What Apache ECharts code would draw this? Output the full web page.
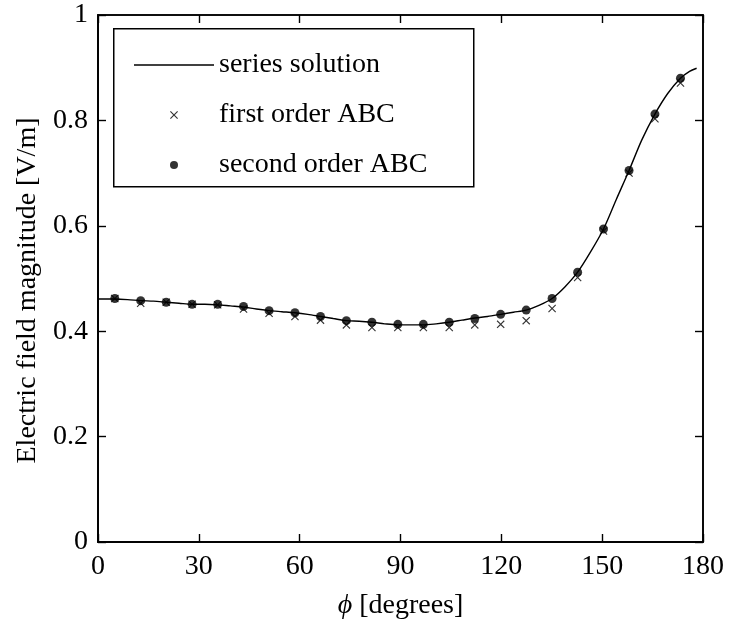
<!DOCTYPE html>
<html>
<head>
<meta charset="utf-8">
<script src="https://cdn.jsdelivr.net/npm/echarts@6/dist/echarts.min.js"></script>
<style>
  html, body { margin: 0; padding: 0; background: #fff; }
  #chart { width: 730px; height: 626px; }
</style>
</head>
<body>
<div id="chart"></div>
<script>
// Series (analytic) solution, sampled along phi in degrees
const curvePhi = [0, 5.0, 8.8, 12.7, 16.5, 20.3, 24.1, 28.0, 31.8, 35.6, 39.4, 43.3, 47.1, 50.9,
  54.7, 58.6, 62.4, 66.2, 70.0, 73.9, 77.7, 81.5, 85.3, 89.2, 93.0, 96.8, 100.6, 104.5, 108.3,
  112.1, 115.9, 119.8, 123.6, 127.4, 131.2, 135.1, 138.9, 142.7, 146.5, 150.4, 154.2, 158.0,
  161.8, 165.7, 169.5, 173.3, 176.0, 178.1];
const curveE = [0.461, 0.461, 0.460, 0.458, 0.457, 0.455, 0.453, 0.451, 0.451, 0.450, 0.448, 0.446,
  0.442, 0.439, 0.437, 0.435, 0.432, 0.428, 0.424, 0.420, 0.419, 0.417, 0.414, 0.412, 0.412,
  0.412, 0.414, 0.417, 0.421, 0.425, 0.428, 0.432, 0.436, 0.440, 0.449, 0.462, 0.484, 0.512,
  0.550, 0.594, 0.650, 0.705, 0.763, 0.812, 0.851, 0.880, 0.893, 0.899];

// Boundary nodes where the ABC solutions are evaluated
const nodePhi = [5.0, 12.7, 20.3, 28.0, 35.6, 43.3, 50.9, 58.6, 66.2, 73.9, 81.5, 89.2, 96.8,
  104.5, 112.1, 119.8, 127.4, 135.1, 142.7, 150.4, 158.0, 165.7, 173.3];
const firstOrderE = [0.462, 0.453, 0.455, 0.451, 0.450, 0.442, 0.434, 0.428, 0.421, 0.412, 0.407,
  0.407, 0.407, 0.407, 0.412, 0.413, 0.420, 0.443, 0.502, 0.590, 0.700, 0.803, 0.871];
const secondOrderE = [0.462, 0.458, 0.455, 0.451, 0.451, 0.447, 0.439, 0.435, 0.428, 0.420, 0.417,
  0.413, 0.413, 0.417, 0.424, 0.432, 0.440, 0.462, 0.512, 0.594, 0.705, 0.812, 0.880];

const xTicks = [0, 30, 60, 90, 120, 150, 180];
const yTicks = [0, 0.2, 0.4, 0.6, 0.8, 1];

const FONT = '"Liberation Serif", "DejaVu Serif", serif';
const FS = 28;
const pair = (xs, ys) => xs.map((x, i) => [x, ys[i]]);

// thin diagonal cross drawn as a filled outline
const crossPath = 'path://M0,1 L1,0 L5,4 L9,0 L10,1 L6,5 L10,9 L9,10 L5,6 L1,10 L0,9 L4,5 Z';

// fresh style objects for each axis
const axisLine = () => ({ show: true, onZero: false, lineStyle: { color: '#000', width: 1.6 } });
const tick = () => ({ show: true, inside: true, length: 8, lineStyle: { color: '#000', width: 1.4 } });

// label-less axis that only carries inward ticks along one side of the box
const tickAxis = (pos, max, interval) => ({
  type: 'value', position: pos, min: 0, max, interval,
  axisLine: axisLine(), axisTick: tick(), axisLabel: { show: false }, splitLine: { show: false }
});

const chart = echarts.init(document.getElementById('chart'), null, { renderer: 'canvas' });
chart.setOption({
  animation: false,
  backgroundColor: '#fff',
  grid: { left: 98, right: 27, top: 15, bottom: 84, show: true, borderColor: '#000', borderWidth: 1.6 },
  xAxis: [{
    type: 'value', position: 'bottom', min: xTicks[0], max: xTicks[xTicks.length - 1], interval: 30,
    axisLine: axisLine(), axisTick: { show: false }, splitLine: { show: false },
    axisLabel: { color: '#000', fontFamily: FONT, fontSize: FS, margin: 11 },
    name: '{i|\u03d5} [degrees]', nameLocation: 'middle', nameGap: 50,
    nameTextStyle: {
      color: '#000', fontFamily: FONT, fontSize: FS,
      rich: { i: { fontFamily: FONT, fontStyle: 'italic', fontSize: FS, color: '#000' } }
    }
  }, tickAxis('top', 180, 30), tickAxis('bottom', 180, 30)],
  yAxis: [{
    type: 'value', position: 'left', min: yTicks[0], max: yTicks[yTicks.length - 1], interval: 0.2,
    axisLine: axisLine(), axisTick: { show: false }, splitLine: { show: false },
    axisLabel: {
      color: '#000', fontFamily: FONT, fontSize: FS, margin: 10,
      formatter: v => String(+v.toFixed(1))
    },
    name: 'Electric field magnitude [V/m]', nameLocation: 'middle', nameGap: 56,
    nameTextStyle: { color: '#000', fontFamily: FONT, fontSize: FS, padding: [0, 24, 0, 0] }
  }, tickAxis('right', 1, 0.2), tickAxis('left', 1, 0.2)],
  legend: {
    orient: 'vertical', left: 129, top: 45, itemWidth: 80, itemHeight: 8, itemGap: 20,
    textStyle: { color: '#000', fontFamily: FONT, fontSize: FS, lineHeight: 30 },
    data: [
      { name: 'series solution', icon: 'path://M0,0 L80,0 L80,1.6 L0,1.6 Z', itemStyle: { color: '#000' } },
      { name: 'first order ABC' },
      { name: 'second order ABC' }
    ]
  },
  graphic: [{
    type: 'rect', left: 113, top: 28, z: 1,
    shape: { width: 360, height: 158 },
    style: { fill: '#fff', stroke: '#000', lineWidth: 1.5 }
  }],
  series: [{
    name: 'series solution', type: 'line', data: pair(curvePhi, curveE),
    smooth: 0.3, symbol: 'none', lineStyle: { color: '#000', width: 1.4 }, z: 2
  }, {
    name: 'first order ABC', type: 'scatter', data: pair(nodePhi, firstOrderE),
    symbol: crossPath, symbolSize: 8, itemStyle: { color: '#000' }, z: 3
  }, {
    name: 'second order ABC', type: 'scatter', data: pair(nodePhi, secondOrderE),
    symbol: 'circle', symbolSize: 9, itemStyle: { color: '#000' }, z: 4
  }, {
    // empty series so the tick-only axes are laid out
    type: 'line', xAxisIndex: 1, yAxisIndex: 1, data: [], silent: true
  }, {
    type: 'line', xAxisIndex: 2, yAxisIndex: 2, data: [], silent: true
  }]
});
</script>
</body>
</html>
